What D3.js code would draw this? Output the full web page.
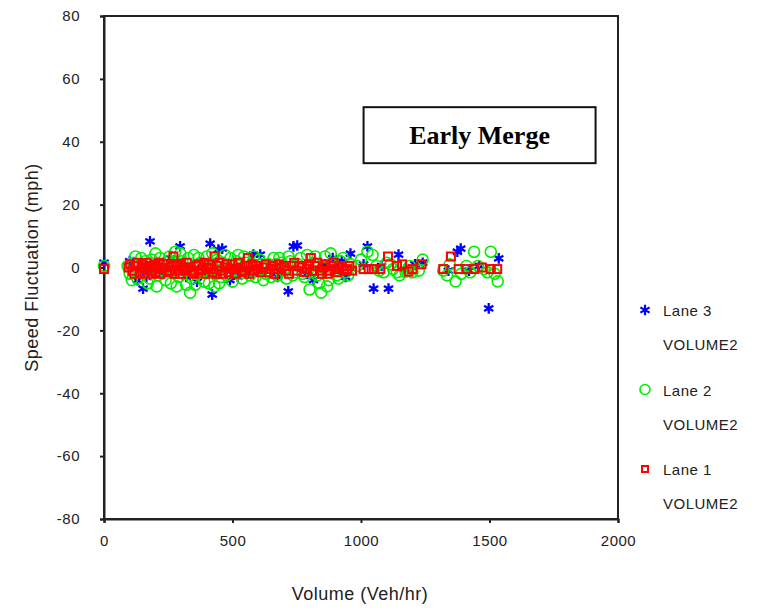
<!DOCTYPE html>
<html>
<head>
<meta charset="utf-8">
<script src="https://cdn.jsdelivr.net/npm/d3@7"></script>
<style>
  body { margin: 0; background: #fff; }
  text { font-family: "Liberation Sans", Arial, sans-serif; fill: #222; }
</style>
</head>
<body>
<div id="scatter"></div>
<script>
// data: [volume, speed fluctuation]
var lane1 = [[0,-0.5],
  [95,0],[110,-1],[125,0.5],[140,-1.5],[150,1],[160,-0.5],[170,0],[180,-1],[190,0.5],[200,-1.5],
  [215,1.5],[225,-0.5],[240,0],[255,-1],[270,3.5],[280,0.5],[290,-1],[300,1],[315,-0.5],[330,0],
  [345,-1.5],[360,0.5],[375,-1],[390,1.5],[400,0],[415,-0.5],[430,3.5],[445,0.5],[455,-1],[470,0],
  [485,-1.5],[500,1],[515,-0.5],[530,0],[545,-1],[560,3],[570,0.5],[585,-1],[600,-0.5],[620,0],
  [640,-1.5],[655,0.5],[670,-0.5],[690,0],[710,-1],[730,0.5],[750,-1],[770,0],[790,-0.5],[805,3],
  [820,0.5],[840,-1],[855,0],[870,-2],[885,0.5],[900,-0.5],[915,0],[935,-1],[955,0.5],
  [102,1],[118,-2],[132,1.5],[146,0],[158,-2],[166,1.5],[176,0.5],[186,-2],[196,1],[207,0],
  [220,-2],[232,1],[248,-1.5],[262,0.5],[275,-2],[286,1],[296,-2],[308,0],[322,1.5],[338,-1],
  [352,-2],[368,1],[382,-0.5],[395,-2],[408,1],[422,-1.5],[438,-2],[450,1.5],[462,-2],[478,1],
  [492,-0.5],[508,-2],[522,1.5],[538,-1.5],[552,0.5],[565,-2],[578,1],[592,0.5],[610,-1.5],[630,1],
  [648,-0.5],[662,-2],[680,1],[700,0.5],[720,-2],[740,1.5],[760,0.5],[780,-1.5],[798,1],[812,-1],
  [830,1.5],[848,-2],[862,1],[878,-1],[893,1.5],[908,-1.5],[925,0.5],[945,-0.5],[965,-1],
  [1010,-0.5],[1030,-0.5],[1050,-0.5],[1075,-0.5],[1105,3.5],[1140,0.5],[1160,1],[1185,-1.3],[1200,-0.5],[1235,1],
  [1320,-0.5],[1350,3.5],[1380,-0.5],[1410,-0.5],[1440,-0.5],[1470,0],[1505,-0.5],[1530,-0.5]];

var lane2 = [[0,0.5],
  [100,-2],[115,1.5],[130,-3.5],[145,3],[155,-1],[170,-5],[185,2.5],[200,4.5],[210,-2.5],[225,1],
  [240,-4],[255,3.5],[265,-1.5],[277,5],[290,-3],[305,2],[320,-5.5],[335,-8],[350,4],[360,-2],
  [375,1.5],[390,-4.5],[400,3.5],[415,-1],[430,-6],[440,2.5],[455,-3],[470,4],[485,-1],[500,-4.5],
  [515,2],[530,-2],[545,3.5],[560,-1.5],[575,1],[590,-3],[605,2.5],[620,-4],[640,1],[660,3],
  [675,-2.5],[690,1.5],[710,-3.5],[725,2],[745,-1.5],[765,3],[780,-3],[800,-7],[815,1.5],[830,-2.5],
  [845,-8],[860,3.5],[875,-4],[890,1],[905,-2.5],[920,2],[940,-1.5],[960,1],
  [92,0.5],[108,-4],[122,3.5],[138,-1.5],[160,2],[178,-3.5],[193,0],[205,-6],[218,3],[232,-1],
  [247,2],[260,-5],[272,1.5],[283,-6],[297,4.5],[312,-1],[328,3],[342,-3.5],[355,-5.5],[368,3],
  [382,-1.5],[396,1],[408,-5],[422,4.5],[436,-2],[448,-5],[462,1.5],[478,-2.5],[492,3],[508,-1],
  [522,4],[538,-3.5],[552,1.5],[568,-2.5],[583,3.5],[598,-1],[612,1],[630,-2],[650,-3],[668,1],
  [682,3],[700,-1],[718,3.5],[735,-2.5],[755,1],[772,-2],[790,4],[808,-1.5],[822,3.5],[838,-5],
  [852,0],[868,-6],[882,4.5],[898,-1],[912,-3.5],[930,3],[950,-2.5],[985,0.5],
  [1000,2.5],[1025,5],[1045,4],[1060,0.5],[1070,-1],[1088,-1.5],[1100,1.5],[1115,1],[1125,-0.5],[1140,-1.5],
  [1150,-2.5],[1173,-1.3],[1190,0.5],[1200,-1.5],[1225,-1],[1240,2.5],
  [1320,-1],[1335,-2.5],[1345,1],[1368,-4.4],[1390,-2],[1410,0.5],[1425,-1.5],[1440,5],[1455,0.5],
  [1478,-0.5],[1492,-1.5],[1505,5],[1520,-2],[1532,-4.4]];

var lane3 = [[0,1.5],
  [100,2],[130,-4],[152,-6.7],[165,-3],[179,8.3],[230,-2],[260,3],[296,6.7],
  [320,-3],[362,-4.5],[395,-1.5],[413,7.6],[421,-8.6],[445,5.7],[460,6],[490,-4],
  [520,-3],[565,-1.5],[581,4.1],[608,4.1],[675,-3],[690,-2],[717,-7.6],
  [737,6.7],[752,7],[790,-2],[815,-4],[860,1],[890,3],[925,2],[940,-3],[959,4.4],
  [1010,1],[1025,6.7],[1049,-6.7],[1080,0.5],[1107,-6.7],[1146,4.1],[1170,-0.5],[1210,1],[1240,1.5],
  [1340,-1],[1375,5],[1388,6],[1420,-1],[1460,0.5],[1497,-13],[1536,2.9]];

var xTicks = [0, 500, 1000, 1500, 2000];
var yTicks = [-80, -60, -40, -20, 0, 20, 40, 60, 80];
var legendNames = ['Lane 3', 'Lane 2', 'Lane 1'];

var svgWidth = 770;
var svgHeight = 610;
var margin = { top: 16, right: 152, bottom: 91, left: 104 };
var width = svgWidth - margin.left - margin.right;
var height = svgHeight - margin.top - margin.bottom;

var svg = d3.select('#scatter').append('svg')
  .attr('width', svgWidth)
  .attr('height', svgHeight);

var chartGroup = svg.append('g')
  .attr('transform', `translate(${margin.left}, ${margin.top})`);

var x = d3.scaleLinear().domain([0, 2000]).range([0, width]);
var y = d3.scaleLinear().domain([-80, 80]).range([height, 0]);

// plain numbers with a hyphen minus, like the original
var plain = d => String(d);

// frame round the plot
chartGroup.append('rect')
  .attr('width', width)
  .attr('height', height)
  .attr('fill', 'none')
  .attr('stroke', '#222')
  .attr('stroke-width', 2);

var xAxis = chartGroup.append('g')
  .attr('transform', `translate(0, ${height})`)
  .call(d3.axisBottom(x).tickValues(xTicks).tickFormat(plain).tickSize(4).tickPadding(12));

var yAxis = chartGroup.append('g')
  .call(d3.axisLeft(y).tickValues(yTicks).tickFormat(plain).tickSize(4).tickPadding(20));

[xAxis, yAxis].forEach(function(ax) {
  ax.select('.domain').attr('stroke', '#222').attr('stroke-width', 2);
  ax.selectAll('.tick line').attr('stroke', '#222').attr('stroke-width', 2);
  ax.selectAll('.tick text')
    .attr('fill', '#222')
    .style('font-size', '15px')
    .style('letter-spacing', '0.5px');
});

// markers: stars underneath, then circles, squares on top
var starPath = d3.symbol().type(d3.symbolAsterisk).size(80)();
var markers = chartGroup.append('g');

markers.selectAll('.l3')
  .data(lane3)
  .enter()
  .append('path')
  .attr('d', starPath)
  .attr('transform', d => `translate(${x(d[0])}, ${y(d[1])})`)
  .attr('fill', 'none')
  .attr('stroke', '#0000ff')
  .attr('stroke-width', 2.3);

markers.selectAll('.l2')
  .data(lane2)
  .enter()
  .append('circle')
  .attr('cx', d => x(d[0]))
  .attr('cy', d => y(d[1]))
  .attr('r', 5.5)
  .attr('fill', 'none')
  .attr('stroke', '#00ee00')
  .attr('stroke-width', 1.6);

markers.selectAll('.l1')
  .data(lane1)
  .enter()
  .append('rect')
  .attr('x', d => x(d[0]) - 4)
  .attr('y', d => y(d[1]) - 4)
  .attr('width', 8)
  .attr('height', 8)
  .attr('fill', 'none')
  .attr('stroke', '#ff0000')
  .attr('stroke-width', 2);

// label box
var box = chartGroup.append('g').attr('transform', `translate(${x(1010)}, ${y(51)})`);
box.append('rect')
  .attr('width', 232)
  .attr('height', 56)
  .attr('fill', '#fff')
  .attr('stroke', '#111')
  .attr('stroke-width', 2);
box.append('text')
  .attr('x', 116)
  .attr('y', 37)
  .attr('text-anchor', 'middle')
  .style('font-family', '"Liberation Serif", "Times New Roman", serif')
  .style('font-weight', 'bold')
  .style('font-size', '26px')
  .style('fill', '#000')
  .text('Early Merge');

// axis titles
svg.append('text')
  .attr('x', 360)
  .attr('y', 600)
  .attr('text-anchor', 'middle')
  .style('font-size', '18px')
  .style('letter-spacing', '0.5px')
  .text('Volume (Veh/hr)');

svg.append('text')
  .attr('transform', `translate(38, ${margin.top + y(0)}) rotate(-90)`)
  .attr('text-anchor', 'middle')
  .style('font-size', '18px')
  .style('letter-spacing', '0.5px')
  .text('Speed Fluctuation (mph)');

// legend
var legend = svg.append('g').attr('transform', 'translate(645, 310)');
var legendRows = legend.selectAll('g')
  .data(legendNames)
  .enter()
  .append('g')
  .attr('transform', (d, i) => `translate(0, ${i * 79.5})`);

legendRows.each(function(d, i) {
  var g = d3.select(this);
  if (i === 0) {
    g.append('path').attr('d', starPath).attr('fill', 'none')
      .attr('stroke', '#0000ff').attr('stroke-width', 2.2);
  } else if (i === 1) {
    g.append('circle').attr('r', 5).attr('fill', 'none')
      .attr('stroke', '#00ee00').attr('stroke-width', 1.6);
  } else {
    g.append('rect').attr('x', -3).attr('y', -3).attr('width', 6).attr('height', 6)
      .attr('fill', 'none').attr('stroke', '#ff0000').attr('stroke-width', 2);
  }
  g.append('text').attr('x', 18).attr('y', 6)
    .style('font-size', '15px').style('letter-spacing', '0.5px').text(d);
  g.append('text').attr('x', 18).attr('y', 40)
    .style('font-size', '15px').style('letter-spacing', '0.5px').text('VOLUME2');
});
</script>
</body>
</html>
